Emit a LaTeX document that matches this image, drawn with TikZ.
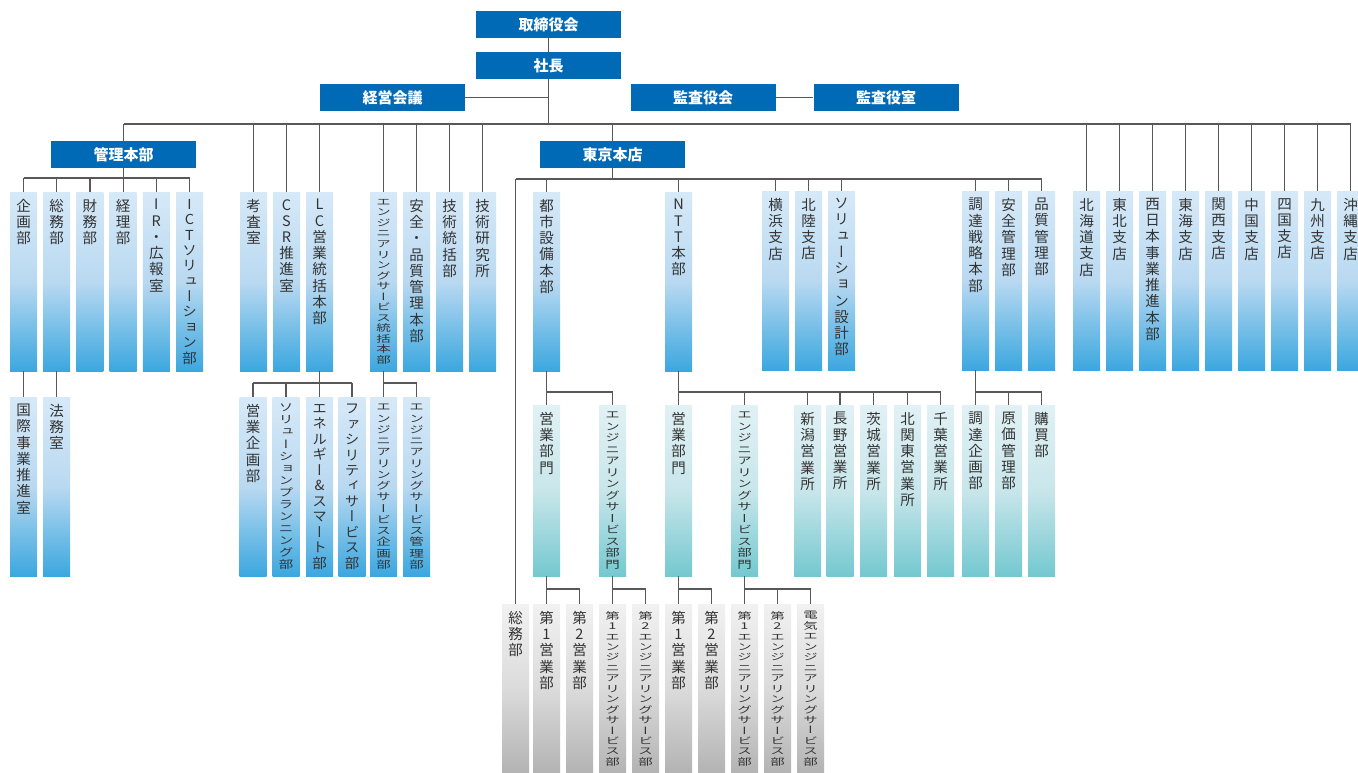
\documentclass[tikz,border=0pt]{standalone}
\usepackage{fontspec}
\usepackage{graphicx}
\usepackage{tikz}
\newfontfamily\cjk{Noto Sans CJK JP}
\newfontfamily\vfont[RawFeature=+vert]{Noto Sans CJK JP}

\definecolor{hdblue}{HTML}{006AB6}
\definecolor{lnk}{HTML}{595757}
\definecolor{txt}{HTML}{333333}
\definecolor{blA}{HTML}{D6E9F8}
\definecolor{blB}{HTML}{B9D9F1}
\definecolor{blC}{HTML}{3BA7DF}
\definecolor{tlA}{HTML}{E1F1F5}
\definecolor{tlB}{HTML}{C8E6EA}
\definecolor{tlC}{HTML}{74C8D0}
\definecolor{gyA}{HTML}{F1F1F1}
\definecolor{gyB}{HTML}{DBDBDB}
\definecolor{gyC}{HTML}{B3B3B3}

% vertical labels: one character per line, squeezed only in height
\newlength\vmax
\newlength\vnat
\newsavebox\vbx
\def\vend{\vend}
\def\vstep#1{\ifx#1\vend\else\hbox to 1.2em{\hss#1\hss}\expandafter\vstep\fi}
\newcommand\vlabel[1]{\sbox\vbx{\vbox{\baselineskip=1.12em\lineskiplimit=-\maxdimen\expandafter\vstep#1\vend}}%
  \setlength\vnat{\dimexpr\ht\vbx+\dp\vbx\relax}%
  \ifdim\vnat>\vmax
    \pgfmathsetmacro\vratio{\vmax/\vnat}%
    \scalebox{1}[\vratio]{\usebox\vbx}%
  \else
    \vbox to\vmax{\copy\vbx\vss}%
  \fi}

\tikzset{
  head/.style={fill=hdblue, text=white, minimum width=145pt, minimum height=27pt, inner sep=0pt,
    font=\cjk\bfseries\fontsize{15}{18}\selectfont},
  cell/.style={inner xsep=0pt, inner ysep=7pt, minimum width=27pt, anchor=north, text=txt,
    font=\vfont\fontsize{14.5}{16}\selectfont},
  bluecell/.style={cell, top color=blA, bottom color=blC, middle color=blB,
    execute at begin node={\setlength\vmax{165pt}}},
  tealcell/.style={cell, top color=tlA, bottom color=tlC, middle color=tlB,
    execute at begin node={\setlength\vmax{157pt}}},
  graycell/.style={cell, top color=gyA, bottom color=gyC, middle color=gyB,
    execute at begin node={\setlength\vmax{155pt}}},
  link/.style={draw=lnk, line width=1.2pt},
}

\begin{document}
\begin{tikzpicture}[x=1pt,y=-1pt]
\fill[white] (0,0) rectangle (1358,773);
\useasboundingbox (0,0) rectangle (1358,773);

% top level
\node[head] (board) at (548.5,24.5) {取締役会};
\node[head] (pres) at (548.5,65.5) {社長};
\node[head] (mgmt) at (392.5,97.5) {経営会議};
\node[head] (audb) at (703,97.5) {監査役会};
\node[head] (auds) at (886,97.5) {監査役室};
\node[head] (kanri) at (123.5,154.5) {管理本部};
\node[head] (tokyo) at (612.5,154.5) {東京本店};

% first row
\foreach \t [count=\i] in {企画部,総務部,財務部,経理部,IR・広報室,ICTソリューション部}
  \node[bluecell] (k\i) at (23.5+33.2*\i-33.2,192) {\vlabel{\t}};
\node[bluecell] (kousa) at (253.5,192) {\vlabel{考査室}};
\node[bluecell] (csr) at (286.5,192) {\vlabel{CSR推進室}};
\node[bluecell] (lc) at (319.5,192) {\vlabel{LC営業統括本部}};
\node[bluecell] (engs) at (383.5,192) {\vlabel{エンジニアリングサービス統括本部}};
\node[bluecell] (anq) at (416.5,192) {\vlabel{安全・品質管理本部}};
\node[bluecell] (gitou) at (449.5,192) {\vlabel{技術統括部}};
\node[bluecell] (giken) at (482.5,192) {\vlabel{技術研究所}};
\node[bluecell] (toshi) at (546.5,192) {\vlabel{都市設備本部}};
\node[bluecell] (ntt) at (678.5,192) {\vlabel{NTT本部}};
\node[bluecell] (yoko) at (775.5,191) {\vlabel{横浜支店}};
\node[bluecell] (hoku) at (808.5,191) {\vlabel{北陸支店}};
\node[bluecell] (sold) at (841.5,191) {\vlabel{ソリューション設計部}};
\node[bluecell] (chot) at (975.5,191) {\vlabel{調達戦略本部}};
\node[bluecell] (anz) at (1008.5,191) {\vlabel{安全管理部}};
\node[bluecell] (hin) at (1041.5,191) {\vlabel{品質管理部}};
\foreach \t [count=\i] in {北海道支店,東北支店,西日本事業推進本部,東海支店,関西支店,中国支店,四国支店,九州支店,沖縄支店}
  \node[bluecell] (br\i) at (1086.5+33*\i-33,191) {\vlabel{\t}};

% second row
\node[bluecell] (kokusai) at (23.5,397) {\vlabel{国際事業推進室}};
\node[bluecell] (houmu) at (56.7,397) {\vlabel{法務室}};
\node[bluecell] (eik) at (253,397) {\vlabel{営業企画部}};
\node[bluecell] (spl) at (286,397) {\vlabel{ソリューションプランニング部}};
\node[bluecell] (ene) at (319.5,397) {\vlabel{エネルギー\&スマート部}};
\node[bluecell] (fac) at (352,397) {\vlabel{ファシリティサービス部}};
\node[bluecell] (ekik) at (383.5,397) {\vlabel{エンジニアリングサービス企画部}};
\node[bluecell] (ekan) at (416.5,397) {\vlabel{エンジニアリングサービス管理部}};
\node[tealcell] (ts1) at (546.5,405) {\vlabel{営業部門}};
\node[tealcell] (ts2) at (612.5,405) {\vlabel{エンジニアリングサービス部門}};
\node[tealcell] (nt1) at (678.5,405) {\vlabel{営業部門}};
\node[tealcell] (nt2) at (744.5,405) {\vlabel{エンジニアリングサービス部門}};
\node[tealcell] (nii) at (807.5,405) {\vlabel{新潟営業所}};
\node[tealcell] (nag) at (840,405) {\vlabel{長野営業所}};
\node[tealcell] (iba) at (873.5,405) {\vlabel{茨城営業所}};
\node[tealcell] (kkt) at (907.5,405) {\vlabel{北関東営業所}};
\node[tealcell] (chi) at (940.5,405) {\vlabel{千葉営業所}};
\node[tealcell] (cki) at (975.5,405) {\vlabel{調達企画部}};
\node[tealcell] (gen) at (1008.5,405) {\vlabel{原価管理部}};
\node[tealcell] (kob) at (1041.5,405) {\vlabel{購買部}};

% third row
\node[graycell] (so) at (515.5,604) {\vlabel{総務部}};
\node[graycell] (g1) at (546.5,604) {\vlabel{第1営業部}};
\node[graycell] (g2) at (579.5,604) {\vlabel{第2営業部}};
\node[graycell] (g3) at (612.5,604) {\vlabel{第1エンジニアリングサービス部}};
\node[graycell] (g4) at (645.5,604) {\vlabel{第2エンジニアリングサービス部}};
\node[graycell] (g5) at (678.5,604) {\vlabel{第1営業部}};
\node[graycell] (g6) at (711.5,604) {\vlabel{第2営業部}};
\node[graycell] (g7) at (744.5,604) {\vlabel{第1エンジニアリングサービス部}};
\node[graycell] (g8) at (777.5,604) {\vlabel{第2エンジニアリングサービス部}};
\node[graycell] (g9) at (810.5,604) {\vlabel{電気エンジニアリングサービス部}};

% bus levels
\coordinate (busA) at (0,124);
\coordinate (busK) at (0,178);
\coordinate (busT) at (0,179);
\coordinate (busL) at (0,383);
\coordinate (busS) at (0,392);
\coordinate (busG) at (0,589);

% connectors
\draw[link] (board) -- (pres);
\draw[link] (pres) -- (pres |- busA);
\draw[link] (mgmt) -- (mgmt -| pres);
\draw[link] (audb) -- (auds);
\draw[link] (kanri |- busA) -- (br9 |- busA);
\foreach \n in {kanri,kousa,csr,lc,engs,anq,gitou,giken,tokyo,br1,br2,br3,br4,br5,br6,br7,br8,br9}
  \draw[link] (\n) -- (\n |- busA);

\draw[link] (kanri) -- (kanri |- busK);
\draw[link] (k1 |- busK) -- (k6 |- busK);
\foreach \i in {1,...,6}
  \draw[link] (k\i) -- (k\i |- busK);
\draw[link] (k1) -- (kokusai);
\draw[link] (k2) -- (houmu);

\draw[link] (lc) -- (lc |- busL);
\draw[link] (eik |- busL) -- (fac |- busL);
\foreach \n in {eik,spl,ene,fac}
  \draw[link] (\n) -- (\n |- busL);
\draw[link] (engs) -- (engs |- busL) -- (ekan |- busL);
\foreach \n in {ekik,ekan}
  \draw[link] (\n) -- (\n |- busL);

\draw[link] (tokyo) -- (tokyo |- busT);
\draw[link] (so |- busT) -- (hin |- busT);
\foreach \n in {so,toshi,ntt,yoko,hoku,sold,chot,anz,hin}
  \draw[link] (\n) -- (\n |- busT);

\draw[link] (toshi) -- (toshi |- busS) -- (ts2 |- busS);
\draw[link] (ntt) -- (ntt |- busS) -- (chi |- busS);
\draw[link] (chot) -- (chot |- busS) -- (kob |- busS);
\foreach \n in {ts1,ts2,nt1,nt2,nii,nag,iba,kkt,chi,cki,gen,kob}
  \draw[link] (\n) -- (\n |- busS);

\draw[link] (ts1) -- (ts1 |- busG) -- (g2 |- busG);
\draw[link] (ts2) -- (ts2 |- busG) -- (g4 |- busG);
\draw[link] (nt1) -- (nt1 |- busG) -- (g6 |- busG);
\draw[link] (nt2) -- (nt2 |- busG) -- (g9 |- busG);
\foreach \i in {1,...,9}
  \draw[link] (g\i) -- (g\i |- busG);
\end{tikzpicture}
\end{document}
